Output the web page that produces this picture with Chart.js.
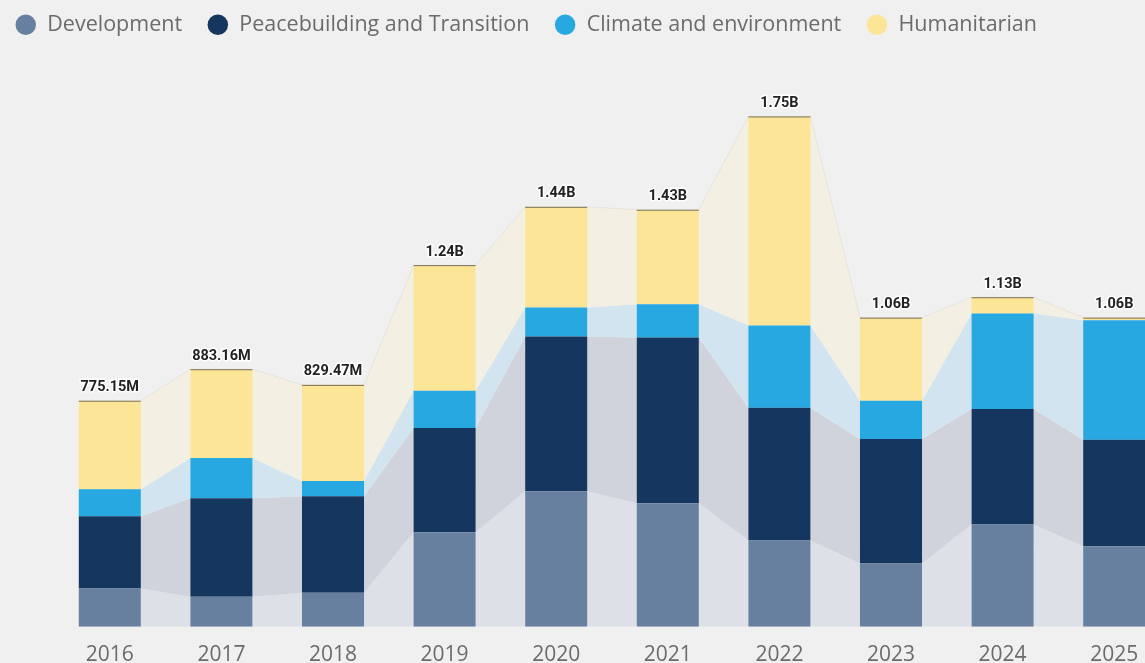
<!DOCTYPE html>
<html>
<head>
<meta charset="utf-8">
<script src="https://cdn.jsdelivr.net/npm/chart.js@4.4.0/dist/chart.umd.min.js"></script>
<style>
  html, body { margin: 0; padding: 0; background: #f0f0f0; overflow: hidden; height: 663px; }
  #wrap { width: 1170px; height: 676px; }
</style>
</head>
<body>
<div id="wrap"><canvas id="funding"></canvas></div>
<script>
const years = ['2016', '2017', '2018', '2019', '2020', '2021', '2022', '2023', '2024', '2025'];

// values in millions USD
const development = [131, 103, 117, 324, 465, 424, 296, 217, 351, 276];
const peacebuilding = [248, 338, 331, 358, 530, 568, 455, 427, 396, 365];
const climate = [93, 138, 52, 127, 100, 114, 282, 131, 327, 410];
const humanitarian = [303.15, 304.16, 329.47, 431, 345, 324, 717, 285, 56, 9];
const totalLabels = ['775.15M', '883.16M', '829.47M', '1.24B', '1.44B', '1.43B', '1.75B', '1.06B', '1.13B', '1.06B'];

const barColors = ['#6880a0', '#15365f', '#27a8e0', '#fde597'];
const ribbonColors = ['#dde0e6', '#d0d3dc', '#d2e4ef', '#f3efe2'];

// ribbons between bars, drawn from the bar elements
const ribbons = {
  id: 'ribbons',
  beforeDatasetsDraw(chart) {
    const ctx = chart.ctx;
    const area = chart.chartArea;
    ctx.save();
    ctx.beginPath();
    ctx.rect(area.left, area.top, area.right - area.left, area.bottom - area.top);
    ctx.clip();
    chart.data.datasets.forEach((ds, d) => {
      const bars = chart.getDatasetMeta(d).data;
      for (let i = 0; i < bars.length - 1; i++) {
        const a = bars[i], b = bars[i + 1];
        const ax = a.x + a.width / 2, bx = b.x - b.width / 2;
        ctx.beginPath();
        ctx.moveTo(ax, a.y);
        ctx.lineTo(bx, b.y);
        ctx.lineTo(bx, b.base);
        ctx.lineTo(ax, a.base);
        ctx.closePath();
        ctx.fillStyle = ribbonColors[d];
        ctx.fill();
        if (d === chart.data.datasets.length - 1) {
          ctx.beginPath();
          ctx.moveTo(ax, a.y);
          ctx.lineTo(bx, b.y);
          ctx.strokeStyle = 'rgba(0,0,0,0.05)';
          ctx.lineWidth = 1;
          ctx.stroke();
        }
      }
    });
    ctx.restore();
  },
  afterDatasetsDraw(chart) {
    const ctx = chart.ctx;
    const last = chart.data.datasets.length - 1;
    const tops = chart.getDatasetMeta(last).data;
    ctx.save();
    ctx.font = 'bold 14.5px Roboto';
    ctx.textAlign = 'center';
    ctx.textBaseline = 'bottom';
    ctx.lineJoin = 'round';
    tops.forEach((bar, i) => {
      ctx.beginPath();
      ctx.moveTo(bar.x - bar.width / 2, bar.y + 0.5);
      ctx.lineTo(bar.x + bar.width / 2, bar.y + 0.5);
      ctx.strokeStyle = 'rgba(60,60,60,0.7)';
      ctx.lineWidth = 1;
      ctx.stroke();
      ctx.strokeStyle = '#ffffff';
      ctx.lineWidth = 3;
      ctx.strokeText(totalLabels[i], bar.x, bar.y - 6);
      ctx.fillStyle = '#222222';
      ctx.fillText(totalLabels[i], bar.x, bar.y - 6);
    });
    ctx.restore();
  }
};

const names = ['Development', 'Peacebuilding and Transition', 'Climate and environment', 'Humanitarian'];
const series = [development, peacebuilding, climate, humanitarian];

new Chart(document.getElementById('funding'), {
  type: 'bar',
  data: {
    labels: years,
    datasets: series.map((vals, k) => ({
      label: names[k],
      data: vals,
      backgroundColor: barColors[k],
      borderWidth: 0,
      categoryPercentage: 1,
      barPercentage: 0.556,
    })),
  },
  options: {
    responsive: true,
    maintainAspectRatio: false,
    animation: false,
    layout: { padding: { left: -10, right: 0, top: -11, bottom: 0 } },
    scales: {
      x: {
        stacked: true,
        grid: { display: false },
        border: { display: false },
        ticks: {
          color: '#6b6b6b',
          font: { family: 'Open Sans', size: 21 },
          padding: 8,
        },
      },
      y: {
        stacked: true,
        min: 0,
        max: 1993,
        grid: { display: false },
        border: { display: false },
        ticks: { display: false },
        afterFit(scale) { scale.width = 64; },
      },
    },
    plugins: {
      legend: {
        position: 'top',
        align: 'start',
        labels: {
          usePointStyle: true,
          pointStyle: 'circle',
          boxHeight: 14.5,
          color: '#6b6b6b',
          font: { family: 'Open Sans', size: 21.5 },
          padding: 25,
        },
      },
      tooltip: { enabled: false },
    },
  },
  plugins: [ribbons],
});
</script>
</body>
</html>
